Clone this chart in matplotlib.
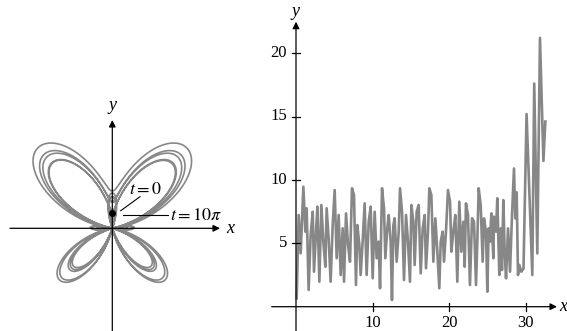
import matplotlib.pyplot as plt
import numpy as np

plt.rcParams['font.family'] = ['Liberation Serif', 'DejaVu Serif']
plt.rcParams['mathtext.fontset'] = 'stix'

# butterfly curve parameter range (t = 0 .. 10*pi)
t_end = 10 * np.pi

# right panel: values
t_vals = [0.09, 0.35, 0.61, 0.96, 1.22, 1.39, 1.65, 1.91, 2.18, 2.35, 2.61, 2.79, 3.05,
          3.31, 3.57, 3.83, 4.0, 4.26, 4.52, 4.79, 5.05, 5.31, 5.57, 5.83, 6.09, 6.27,
          6.53, 6.79, 7.05, 7.31, 7.57, 7.83, 8.01, 8.27, 8.44, 8.7, 8.96, 9.22, 9.49,
          9.75, 10.01, 10.27, 10.53, 10.79, 10.97, 11.23, 11.49, 11.66, 11.92, 12.1,
          12.36, 12.53, 12.71, 12.88, 13.14, 13.41, 13.58, 13.84, 14.1, 14.36, 14.62,
          14.88, 15.06, 15.32, 15.49, 15.75, 16.01, 16.28, 16.54, 16.8, 16.97, 17.23,
          17.41, 17.67, 17.93, 18.19, 18.45, 18.71, 18.89, 19.15, 19.32, 19.58, 19.84,
          20.11, 20.28, 20.54, 20.8, 21.06, 21.32, 21.58, 21.85, 22.02, 22.19, 22.45,
          22.71, 22.98, 23.24, 23.5, 23.67, 23.85, 24.11, 24.37, 24.54, 24.8, 24.98,
          25.15, 25.33, 25.5, 25.76, 25.85, 26.11, 26.28, 26.54, 26.72, 26.89, 27.07,
          27.24, 27.42, 27.68, 27.94, 28.2, 28.46, 28.63, 28.81, 28.98, 29.16, 29.41,
          29.7, 30.1, 30.85, 31.1, 31.5, 31.85, 32.3, 32.55]
y_vals = [0.66, 7.23, 4.21, 9.46, 5.92, 7.76, 1.32, 5.65, 7.49, 2.76, 5.92, 7.89, 1.97,
          8.02, 5.13, 3.15, 7.76, 5.39, 1.97, 6.44, 9.2, 3.82, 7.23, 2.5, 6.18, 1.97,
          7.36, 4.87, 3.55, 9.34, 8.81, 1.71, 6.44, 4.87, 2.5, 5.13, 8.15, 2.5, 6.7,
          7.89, 2.24, 7.49, 3.82, 5.13, 1.45, 9.34, 7.76, 3.82, 6.18, 7.23,
          5.13, 0.53, 6.44, 6.97, 3.55, 5.92, 9.34, 7.49, 2.1, 7.23, 5.13,
          1.97, 8.02, 6.7, 3.29, 7.49, 8.02, 2.63, 6.18, 7.23, 3.03, 5.92,
          9.34, 8.81, 3.55, 6.97, 4.34, 1.45, 5.13, 5.92, 3.55, 5.92, 9.2,
          8.28, 4.34, 5.92, 7.23, 1.97, 8.28, 4.34, 6.7, 3.15, 8.15, 7.23,
          1.71, 6.97, 6.7, 1.71, 5.13, 9.34, 8.02, 3.55, 6.97, 5.92, 1.18,
          6.18, 5.13, 7.36, 3.82, 7.1, 5.92, 8.55, 2.5, 6.18, 2.89, 8.41,
          4.34, 2.24, 6.18, 2.76, 7.23, 10.9, 6.97, 9.02, 2.5, 3.29, 2.76,
          3.0, 15.2, 2.5, 17.6, 4.2, 21.2, 11.5, 14.6]
x_ticks = [10, 20, 30]
y_ticks = [5, 10, 15, 20]

W, H = 567, 331
fig = plt.figure(figsize=(W / 100, H / 100), dpi=100)

curve_color = '#878787'

# ---------- left panel: butterfly ----------
s = 21.7          # px per unit
ox, oy = 112.3, 228.3
axl = fig.add_axes([0, 0, 250 / W, 1])
axl.set_xlim(-ox / s, (250 - ox) / s)
axl.set_ylim(-(H - oy) / s, oy / s)
axl.axis('off')

t = np.linspace(0, t_end, 6000)
r = np.exp(np.cos(t)) - 2 * np.cos(4 * t) + np.sin(t / 12) ** 5
axl.plot(np.sin(t) * r, np.cos(t) * r, color=curve_color, lw=1.2)

arr = dict(arrowstyle='-|>', color='k', lw=0.9, mutation_scale=10, shrinkA=0, shrinkB=0)
axl.annotate('', xy=((220 - ox) / s, 0), xytext=((10 - ox) / s, 0), arrowprops=arr)
axl.annotate('', xy=(0, (oy - 120) / s), xytext=(0, -(H - oy) / s), arrowprops=arr)
axl.text((230 - ox) / s, 0, 'x', style='italic', fontsize=13, ha='center', va='center')
axl.text(0, (oy - 106) / s, 'y', style='italic', fontsize=13, ha='center', va='center')

# start point and labels
axl.plot([0], [np.cos(0) * r[0]], 'o', color='k', ms=4)
axl.plot([(120.7 - ox) / s, (140 - ox) / s], [(oy - 210.7) / s, (oy - 196.7) / s], color='k', lw=0.8)
axl.plot([(122.7 - ox) / s, (168 - ox) / s], [(oy - 215.3) / s, (oy - 215.3) / s], color='k', lw=0.8)
axl.text((129 - ox) / s, (oy - 190) / s, '$t = 0$', fontsize=13, ha='left', va='center')
axl.text((170 - ox) / s, (oy - 215) / s, r'$t = 10\pi$', fontsize=13, ha='left', va='center')

# ---------- right panel ----------
x0p, y0p = 296, 306.7
sx, sy = 7.66, 12.68
axr = fig.add_axes([260 / W, 0, (W - 260) / W, 1])
axr.set_xlim(-(x0p - 260) / sx, (W - x0p) / sx)
axr.set_ylim(-(H - y0p) / sy, y0p / sy)
axr.axis('off')

axr.plot(t_vals, y_vals, color=curve_color, lw=1.9)

axr.annotate('', xy=((557 - x0p) / sx, 0), xytext=((271.7 - x0p) / sx, 0), arrowprops=arr)
axr.annotate('', xy=(0, (y0p - 21.7) / sy), xytext=(0, -(H - y0p) / sy), arrowprops=arr)
axr.text((559.5 - x0p) / sx, 0, 'x', style='italic', fontsize=13, ha='left', va='center')
axr.text(0, (y0p - 11) / sy, 'y', style='italic', fontsize=13, ha='center', va='center')

tl = 4 / sx
for xt in x_ticks:
    axr.plot([xt, xt], [-4 / sy, 4 / sy], color='k', lw=0.9)
    axr.text(xt, -16 / sy, str(xt), fontsize=12, ha='center', va='center')
for yt in y_ticks:
    axr.plot([-tl, tl], [yt, yt], color='k', lw=0.9)
    axr.text(-9 / sx, yt, str(yt), fontsize=12, ha='right', va='center')

fig.savefig('out.png', dpi=100)
